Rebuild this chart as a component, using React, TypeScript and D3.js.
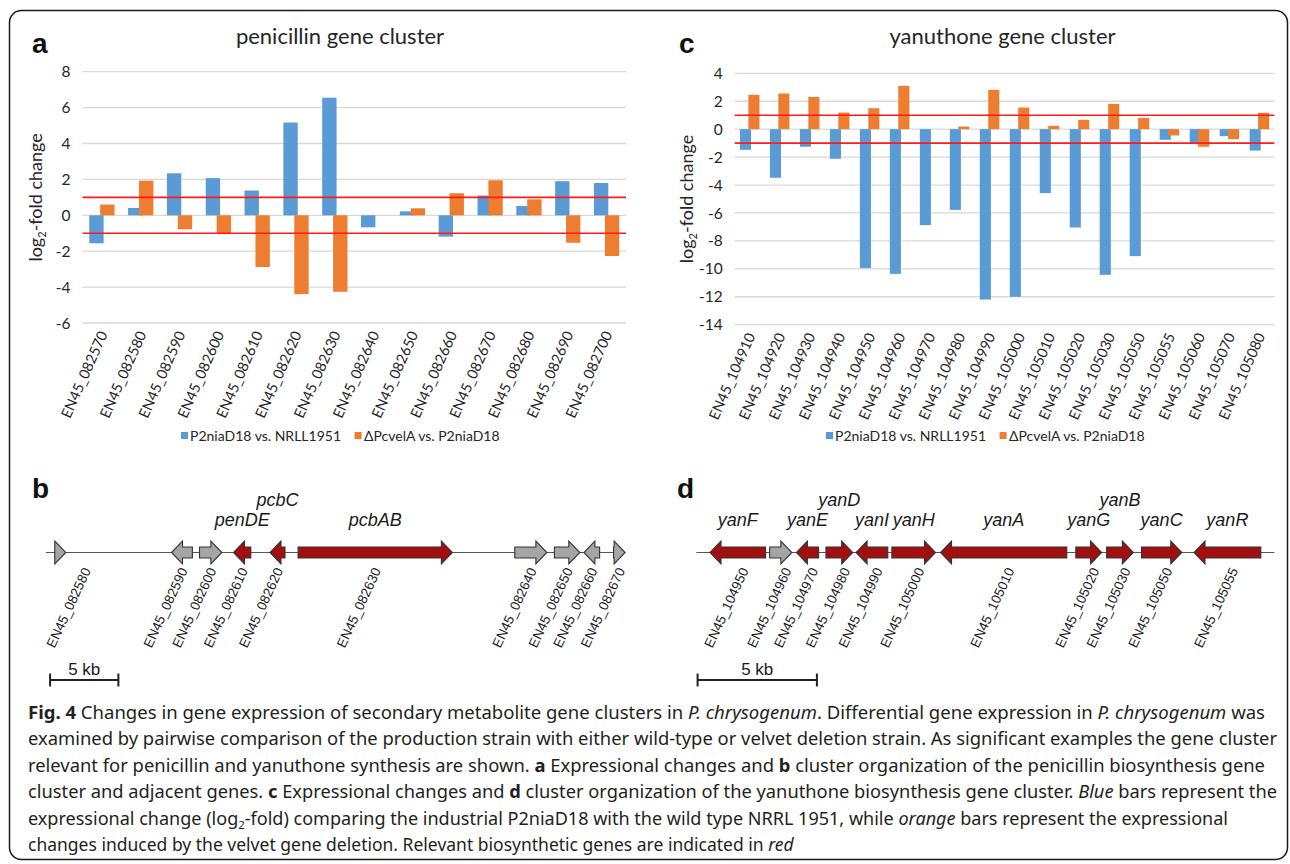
import React from "react";
import * as d3 from "d3";

// ---- panel a: penicillin cluster expression (log2 fold) ----
const penCats = ["EN45_082570", "EN45_082580", "EN45_082590", "EN45_082600", "EN45_082610", "EN45_082620", "EN45_082630",
  "EN45_082640", "EN45_082650", "EN45_082660", "EN45_082670", "EN45_082680", "EN45_082690", "EN45_082700"];
const penBlue = [-1.56, 0.41, 2.34, 2.07, 1.38, 5.17, 6.55, -0.67, 0.22, -1.19, 1.1, 0.52, 1.9, 1.8];
const penOrange = [0.6, 1.93, -0.78, -1.0, -2.88, -4.39, -4.26, 0, 0.39, 1.23, 1.95, 0.89, -1.53, -2.27];
const penTicks = [-6, -4, -2, 0, 2, 4, 6, 8];

// ---- panel c: yanuthone cluster expression ----
const yanCats = ["EN45_104910", "EN45_104920", "EN45_104930", "EN45_104940", "EN45_104950", "EN45_104960", "EN45_104970",
  "EN45_104980", "EN45_104990", "EN45_105000", "EN45_105010", "EN45_105020", "EN45_105030", "EN45_105050", "EN45_105055",
  "EN45_105060", "EN45_105070", "EN45_105080"];
const yanBlue = [-1.48, -3.48, -1.26, -2.12, -9.95, -10.36, -6.87, -5.78, -12.2, -12.0, -4.58, -7.04, -10.43, -9.09, -0.76, -1.07, -0.5, -1.53];
const yanOrange = [2.46, 2.55, 2.31, 1.19, 1.5, 3.1, 0, 0.19, 2.82, 1.55, 0.24, 0.67, 1.81, 0.81, -0.45, -1.26, -0.72, 1.17];
const yanTicks = [-14, -12, -10, -8, -6, -4, -2, 0, 2, 4];

const legendLabels = ["P2niaD18 vs. NRLL1951", "\u0394PcvelA vs. P2niaD18"];
const threshold = 1;

// ---- panel b / d: gene maps, positions in kb ----
const penMap = [
  { id: "EN45_082580", s: 0.64, e: 1.45, dir: 1, red: false, lab: 3.3 },
  { id: "EN45_082590", s: 9.19, e: 10.72, dir: -1, red: false },
  { id: "EN45_082600", s: 11.24, e: 12.88, dir: 1, red: false },
  { id: "EN45_082610", s: 13.73, e: 15.0, dir: -1, red: true },
  { id: "EN45_082620", s: 16.4, e: 17.5, dir: -1, red: true },
  { id: "EN45_082630", s: 18.46, e: 29.76, dir: 1, red: true },
  { id: "EN45_082640", s: 34.33, e: 36.68, dir: 1, red: false },
  { id: "EN45_082650", s: 37.23, e: 39.09, dir: 1, red: false },
  { id: "EN45_082660", s: 39.39, e: 40.54, dir: -1, red: false },
  { id: "EN45_082670", s: 41.56, e: 42.41, dir: 1, red: false },
];
const penLen = 42.4;
const penNames = [
  { id: "EN45_082610", name: "penDE", row: 0 },
  { id: "EN45_082620", name: "pcbC", row: 1 },
  { id: "EN45_082630", name: "pcbAB", row: 0 },
];

const yanMap = [
  { id: "EN45_104950", s: 0.57, e: 2.9, dir: -1, red: true },
  { id: "EN45_104960", s: 3.07, e: 4.0, dir: 1, red: false },
  { id: "EN45_104970", s: 4.19, e: 5.12, dir: -1, red: true },
  { id: "EN45_104980", s: 5.43, e: 6.55, dir: 1, red: true },
  { id: "EN45_104990", s: 6.69, e: 8.02, dir: -1, red: true },
  { id: "EN45_105000", s: 8.19, e: 10.02, dir: 1, red: true },
  { id: "EN45_105010", s: 10.23, e: 15.52, dir: -1, red: true },
  { id: "EN45_105020", s: 15.9, e: 16.98, dir: 1, red: true },
  { id: "EN45_105030", s: 17.19, e: 18.31, dir: 1, red: true },
  { id: "EN45_105050", s: 18.65, e: 20.34, dir: 1, red: true },
  { id: "EN45_105055", s: 20.85, e: 23.65, dir: -1, red: true },
];
const yanLen = 24.22;
const yanNames = [
  { id: "EN45_104950", name: "yanF", row: 0 },
  { id: "EN45_104970", name: "yanE", row: 0 },
  { id: "EN45_104980", name: "yanD", row: 1 },
  { id: "EN45_104990", name: "yanI", row: 0 },
  { id: "EN45_105000", name: "yanH", row: 0 },
  { id: "EN45_105010", name: "yanA", row: 0 },
  { id: "EN45_105020", name: "yanG", row: 0 },
  { id: "EN45_105030", name: "yanB", row: 1 },
  { id: "EN45_105050", name: "yanC", row: 0 },
  { id: "EN45_105055", name: "yanR", row: 0 },
];

// caption lines: [text, style]  b=bold i=italic s=subscript
const caption: [string, string][][] = [
  [["Fig. 4", "b"], [" Changes in gene expression of secondary metabolite gene clusters in ", ""], ["P. chrysogenum", "i"],
    [". Differential gene expression in ", ""], ["P. chrysogenum", "i"], [" was", ""]],
  [["examined by pairwise comparison of the production strain with either wild-type or velvet deletion strain. As significant examples the gene cluster", ""]],
  [["relevant for penicillin and yanuthone synthesis are shown. ", ""], ["a", "b"], [" Expressional changes and ", ""], ["b", "b"],
    [" cluster organization of the penicillin biosynthesis gene", ""]],
  [["cluster and adjacent genes. ", ""], ["c", "b"], [" Expressional changes and ", ""], ["d", "b"],
    [" cluster organization of the yanuthone biosynthesis gene cluster. ", ""], ["Blue", "i"], [" bars represent the", ""]],
  [["expressional change (log", ""], ["2", "s"], ["-fold) comparing the industrial P2niaD18 with the wild type NRRL 1951, while ", ""],
    ["orange", "i"], [" bars represent the expressional", ""]],
  [["changes induced by the velvet gene deletion. Relevant biosynthetic genes are indicated in ", ""], ["red", "i"]],
];
// right end of each wrapped line (last one left ragged)
const captionEnds = [1265, 1277, 1265, 1277, 1228, 0];

const BLUE = "#5B9BD5";
const ORANGE = "#ED7D31";
const GENE_RED = "#A01010";
const GENE_GRAY = "#A5A5A5";
const XL_FONT = "Lato, 'Open Sans', sans-serif";
const MAP_FONT = "'Liberation Sans', Arial, sans-serif";

function BarChart(props: {
  cats: string[]; blue: number[]; orange: number[]; ticks: number[];
  x0: number; x1: number; yTop: number; yBot: number; title: string; titleX: number;
  letter: string; letterX: number; axisX: number; legX: number;
}) {
  const { cats, blue, orange, ticks, x0, x1, yTop, yBot, title, titleX, letter, letterX, axisX, legX } = props;
  const x = d3.scaleBand().domain(cats).range([x0, x1]);
  const y = d3.scaleLinear().domain([ticks[0], ticks[ticks.length - 1]]).range([yBot, yTop]);
  const bw = x.bandwidth() * 0.37;
  const off = bw * 0.38;
  const bar = (v: number, cx: number, color: string, key: string) =>
    v === 0 ? null : (
      <rect key={key} x={cx - bw / 2} width={bw} y={Math.min(y(v), y(0))} height={Math.abs(y(v) - y(0))} fill={color} />
    );
  const legY = 436;
  return (
    <g>
      <text x={letterX} y={53} fontFamily={MAP_FONT} fontWeight="bold" fontSize={28} fill="#111">{letter}</text>
      <text x={titleX} y={44} textAnchor="middle" fontFamily={XL_FONT} fontSize={22} fill="#262626">{title}</text>
      {ticks.map(t => (
        <g key={t}>
          <line x1={x0} x2={x1} y1={y(t)} y2={y(t)} stroke="#D9D9D9" strokeWidth={1.3} />
          <text x={x0 - 12} y={y(t)} dy="0.36em" textAnchor="end" fontFamily={XL_FONT} fontSize={15.5} fill="#262626">{t}</text>
        </g>
      ))}
      <text transform={`translate(${axisX},${(yTop + yBot) / 2}) rotate(-90)`} textAnchor="middle"
        fontFamily={XL_FONT} fontSize={18} fill="#262626">
        log<tspan fontSize={11} dy={4}>2</tspan><tspan dy={-4}>-fold change</tspan>
      </text>
      {cats.map((c, i) => {
        const cx = (x(c) as number) + x.bandwidth() / 2;
        return (
          <g key={c}>
            {bar(blue[i], cx - off, BLUE, "b")}
            {bar(orange[i], cx + off, ORANGE, "o")}
          </g>
        );
      })}
      {[threshold, -threshold].map(t => (
        <line key={t} x1={x0} x2={x1} y1={y(t)} y2={y(t)} stroke="#FF1A1A" strokeWidth={1.6} />
      ))}
      {cats.map(c => {
        const cx = (x(c) as number) + x.bandwidth() / 2;
        return (
          <text key={c} transform={`translate(${cx + 6},${yBot + 11}) rotate(-66)`} textAnchor="end"
            fontFamily={XL_FONT} fontSize={14.5} fill="#262626">{c}</text>
        );
      })}
      <rect x={legX} y={legY - 4} width={7} height={7} fill={BLUE} />
      <text x={legX + 9} y={legY + 5} fontFamily={XL_FONT} fontSize={14} fill="#262626">{legendLabels[0]}</text>
      <rect x={legX + 173.6} y={legY - 4} width={7} height={7} fill={ORANGE} />
      <text x={legX + 183} y={legY + 5} fontFamily={XL_FONT} fontSize={14} fill="#262626">{legendLabels[1]}</text>
    </g>
  );
}

type Gene = { id: string; s: number; e: number; dir: number; red: boolean; lab?: number };

function GeneMap(props: {
  genes: Gene[]; names: { id: string; name: string; row: number }[]; len: number;
  px0: number; px1: number; letter: string; letterX: number; labShift: number; barStart: number;
}) {
  const { genes, names, len, px0, px1, letter, letterX, labShift, barStart } = props;
  const x = d3.scaleLinear().domain([0, len]).range([px0, px1]);
  const yb = 552.5;
  const bh = 5.5, hh = 11.5, hlMax = 11;
  const arrow = (g: Gene) => {
    const a = x(g.s), b = x(g.e);
    const L = b - a;
    const hl = Math.min(hlMax, L);
    let pts: [number, number][];
    if (g.dir > 0) {
      pts = L <= hlMax ? [[a, yb - hh], [b, yb], [a, yb + hh]]
        : [[a, yb - bh], [b - hl, yb - bh], [b - hl, yb - hh], [b, yb], [b - hl, yb + hh], [b - hl, yb + bh], [a, yb + bh]];
    } else {
      pts = L <= hlMax ? [[b, yb - hh], [a, yb], [b, yb + hh]]
        : [[b, yb - bh], [a + hl, yb - bh], [a + hl, yb - hh], [a, yb], [a + hl, yb + hh], [a + hl, yb + bh], [b, yb + bh]];
    }
    return pts.map(p => p.join(",")).join(" ");
  };
  const byId = new Map(genes.map(g => [g.id, g]));
  return (
    <g>
      <text x={letterX} y={498} fontFamily={MAP_FONT} fontWeight="bold" fontSize={28} fill="#111">{letter}</text>
      <line x1={x(0)} x2={x(len)} y1={yb} y2={yb} stroke="#555" strokeWidth={1.2} />
      {genes.map(g => (
        <polygon key={g.id} points={arrow(g)} fill={g.red ? GENE_RED : GENE_GRAY} stroke="#333" strokeWidth={1.1} strokeLinejoin="miter" />
      ))}
      {names.map(n => {
        const g = byId.get(n.id) as Gene;
        return (
          <text key={n.name} x={x((g.s + g.e) / 2)} y={n.row ? 506 : 526} textAnchor="middle" fontFamily={MAP_FONT}
            fontStyle="italic" fontSize={18} fill="#1a1a1a">{n.name}</text>
        );
      })}
      {genes.map(g => {
        const lx = g.lab !== undefined ? x(g.lab) : x((g.s + g.e) / 2) + labShift;
        return (
          <text key={g.id} transform={`translate(${lx},${yb + 18}) rotate(-65)`} textAnchor="end"
            fontFamily={MAP_FONT} fontSize={13.5} fill="#1a1a1a">{g.id}</text>
        );
      })}
      <g stroke="#222" strokeWidth={2}>
        <line x1={x(barStart)} x2={x(barStart + 5)} y1={680} y2={680} />
        <line x1={x(barStart)} x2={x(barStart)} y1={673.5} y2={686.5} />
        <line x1={x(barStart + 5)} x2={x(barStart + 5)} y1={673.5} y2={686.5} />
      </g>
      <text x={x(barStart + 2.5)} y={675} textAnchor="middle" fontFamily={MAP_FONT} fontSize={17} fill="#1a1a1a">5 kb</text>
    </g>
  );
}

function Caption() {
  const x0 = 28;
  return (
    <g fontFamily="'Noto Sans', sans-serif" fontSize={17.5} fill="#231F20">
      {caption.map((runs, i) => (
        <text key={i} x={x0} y={719 + i * 26.4}
          textLength={captionEnds[i] ? captionEnds[i] - x0 : undefined}
          lengthAdjust={captionEnds[i] ? "spacingAndGlyphs" : undefined}>
          {runs.map(([t, st], j) => {
            if (st === "s") return <tspan key={j} fontSize={11} dy={4}>{t}</tspan>;
            const prevSub = j > 0 && runs[j - 1][1] === "s";
            return (
              <tspan key={j} dy={prevSub ? -4 : undefined} fontWeight={st === "b" ? "bold" : undefined}
                fontStyle={st === "i" ? "italic" : undefined}>{t}</tspan>
            );
          })}
        </text>
      ))}
    </g>
  );
}

export default function App() {
  return (
    <svg width={1290} height={864} style={{ position: "absolute", left: 0, top: 0, background: "#fff" }}>
      <rect x={0} y={0} width={1290} height={864} fill="#fff" />
      <rect x={9.5} y={10.5} width={1278} height={849} rx={12} fill="none" stroke="#1a1a1a" strokeWidth={1.5} />
      <BarChart cats={penCats} blue={penBlue} orange={penOrange} ticks={penTicks} x0={82.5} x1={626}
        yTop={71.7} yBot={323} title="penicillin gene cluster" titleX={340} letter="a" letterX={32} axisX={42} legX={181} />
      <BarChart cats={yanCats} blue={yanBlue} orange={yanOrange} ticks={yanTicks} x0={734.7} x1={1274.4}
        yTop={73.3} yBot={324.7} title="yanuthone gene cluster" titleX={1002.5} letter="c" letterX={679} axisX={693} legX={826} />
      <GeneMap genes={penMap} names={penNames} len={penLen} px0={46} px1={625} letter="b" letterX={32} labShift={6} barStart={0.3} />
      <GeneMap genes={yanMap} names={yanNames} len={yanLen} px0={696.4} px1={1274.4} letter="d" letterX={677} labShift={11} barStart={0.05} />
      <Caption />
    </svg>
  );
}
